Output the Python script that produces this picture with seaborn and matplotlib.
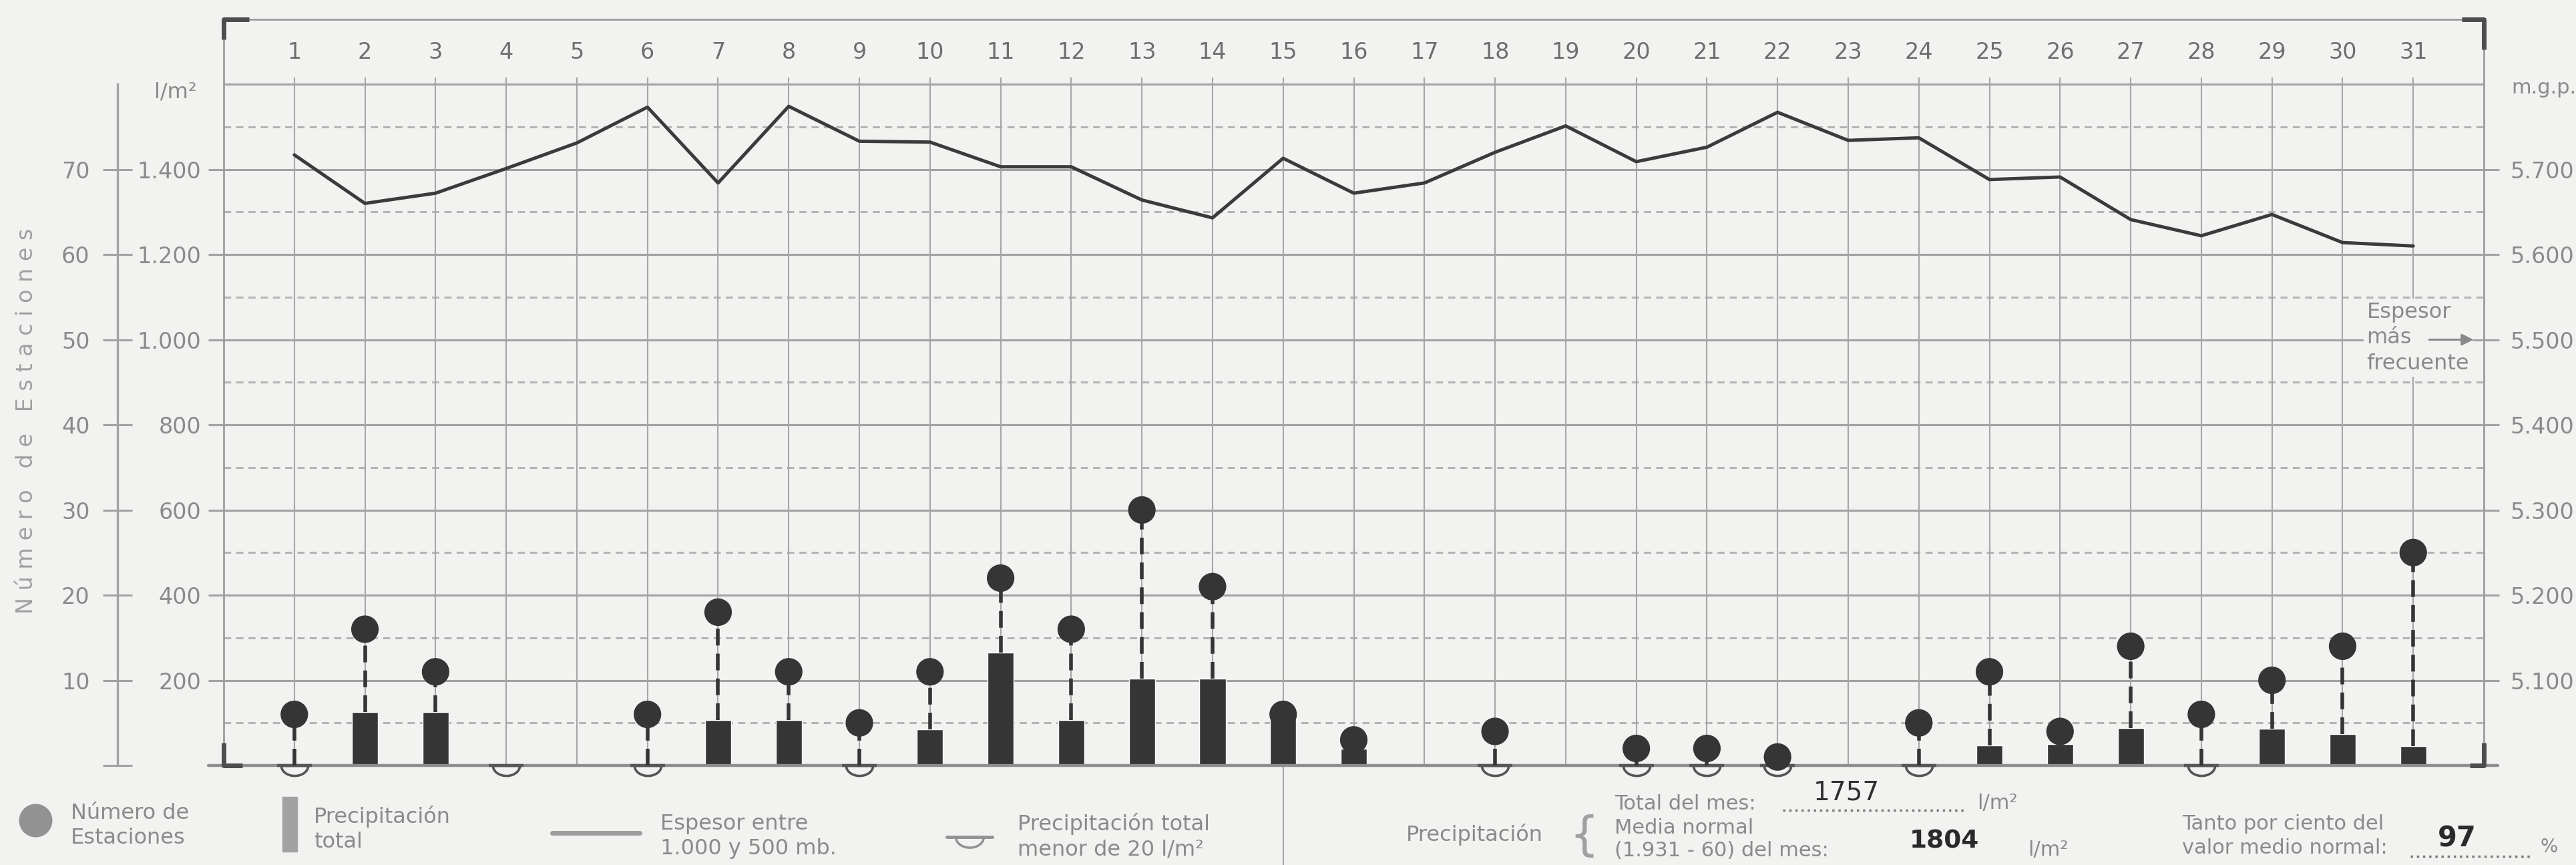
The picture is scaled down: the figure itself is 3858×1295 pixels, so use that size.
import numpy as np
import pandas as pd
import matplotlib
matplotlib.use('Agg')
import matplotlib.pyplot as plt
import seaborn as sns
from matplotlib.path import Path
from matplotlib.lines import Line2D
from matplotlib.patches import Rectangle

# Datos diarios del mes
days = list(range(1, 32))
# precipitacion total (l/m2); valores < 20 se dibujan como semicirculo
precip = [8, 126, 126, 8, 0, 8, 107, 107, 8, 84, 265, 107, 204, 204, 112, 40,
          0, 8, 0, 8, 8, 8, 0, 8, 47, 50, 88, 8, 86, 74, 45]
# numero de estaciones con precipitacion
stations = [6, 16, 11, 0, 0, 6, 18, 11, 5, 11, 22, 16, 30, 21, 6, 3,
            0, 4, 0, 2, 2, 1, 0, 5, 11, 4, 14, 6, 10, 14, 25]
# espesor 1000-500 mb (m.g.p.)
espesor = [5717, 5660, 5672, 5701, 5731, 5773, 5684, 5774, 5733, 5732, 5703,
           5703, 5664, 5643, 5713, 5672, 5684, 5720, 5751, 5709, 5726, 5767,
           5734, 5737, 5688, 5691, 5641, 5622, 5647, 5614, 5610]

left_ticks = [200, 400, 600, 800, 1000, 1200, 1400]
left_labels = ['200', '400', '600', '800', '1.000', '1.200', '1.400']
right_ticks = [5100, 5200, 5300, 5400, 5500, 5600, 5700]
right_labels = ['5.100', '5.200', '5.300', '5.400', '5.500', '5.600', '5.700']
station_ticks = [0, 10, 20, 30, 40, 50, 60, 70]
station_labels = ['', '10', '20', '30', '40', '50', '60', '70']

L_PER_STATION = 20      # 10 estaciones = 200 l/m2
MGP_BASE = 5000         # 5.000 m.g.p. en la linea base, 100 m = 200 l/m2

df = pd.DataFrame({'dia': days, 'precip': precip,
                   'estaciones': stations, 'espesor': espesor})
bars = df[df.precip >= 20]
low = df[(df.precip > 0) & (df.precip < 20)]
est = df[df.estaciones > 0]

sns.set_style('white')
plt.rcParams['font.family'] = ['DejaVu Sans']

BG = '#f2f2f0'
GRID = '#a2a2a2'
TXT = '#8a8a8a'
DARK = '#353535'

W, H = 3858, 1295
fig = plt.figure(figsize=(W / 100, H / 100), dpi=100, facecolor=BG)

def fx(px):
    return px / W

def fy(py):
    return 1 - py / H

YMIN, YMAX = -60, 1760
ax = fig.add_axes([fx(335), fy(1184.25), 3385 / W, 1160.25 / H])
ax.set_facecolor(BG)
ax_st = ax.twinx()
ax_mgp = ax.twinx()

# rejilla
for v in range(200, 1601, 200):
    ax.plot([0, 32], [v, v], color=GRID, lw=2.2, zorder=1)
for v in range(100, 1600, 200):
    ax.plot([0, 32], [v, v], color='#b4b4b4', lw=2.2, ls=(0, (3.5, 2.5)), zorder=1)
ax.vlines(days, 0, 1615, color='#a6a6a6', lw=1.5, zorder=1)
ax.vlines(15, -245, 0, color='#a6a6a6', lw=1.5, clip_on=False, zorder=1)

# barras de precipitacion
sns.barplot(data=bars, x='dia', y='precip', native_scale=True, width=0.37,
            color=DARK, saturation=1, errorbar=None, ax=ax, zorder=3)

# linea base
ax.plot([-0.22, 32.2], [0, 0], color='#8e8e8e', lw=3.2, clip_on=False, zorder=4)

# precipitacion menor de 20 l/m2
t = np.linspace(np.pi, 2 * np.pi, 30)
semi = Path(np.column_stack([np.cos(t), 0.75 * np.sin(t)]).tolist() + [[-1, 0]])
ax.plot(low.dia, np.zeros(len(low)), ls='none', marker=semi, ms=29,
        mfc=BG, mec='#555555', mew=2.6, clip_on=False, zorder=5)
ax.plot(low.dia, np.zeros(len(low)), ls='none', marker='_', ms=38,
        mec='#555555', mew=3.2, clip_on=False, zorder=5)

# marco con esquinas
FR = '#9c9c9c'
ax.plot([0, 32], [1752, 1752], color=FR, lw=2, clip_on=False)
ax.plot([0, 0], [0, 1752], color=FR, lw=2, clip_on=False)
ax.plot([32, 32], [0, 1752], color=FR, lw=2, clip_on=False)
BR = dict(color='#4d4d4d', lw=5, clip_on=False, solid_capstyle='butt', zorder=6)
ax.plot([0.36, 0, 0], [1752, 1752, 1705], **BR)
ax.plot([0.26, 0, 0], [0, 0, 53], **BR)
ax.plot([31.69, 32, 32], [1752, 1752, 1682], **BR)
ax.plot([31.8, 32, 32], [0, 0, 53], **BR)

# numeros de dia
for d in days:
    ax.text(d, 1675, str(d), ha='center', va='center', fontsize=24, color='#6e6e6e')

# espesor mas frecuente
ax.text(30.34, 1004, 'Espesor\nmás\nfrecuente', ha='left', va='center',
        fontsize=23, color=TXT, linespacing=1.3, zorder=6,
        bbox=dict(boxstyle='square,pad=0.15', fc=BG, ec='none'))
ax.annotate('', xy=(31.88, 1000), xytext=(31.2, 1000), zorder=7,
            arrowprops=dict(arrowstyle='-|>', color=TXT, lw=2.2, mutation_scale=26))

ax.set_xlim(0, 32)
ax.set_ylim(YMIN, YMAX)
ax.set_xticks([])
ax.set_xlabel('')
ax.set_ylabel('')
ax.set_yticks(left_ticks)
ax.set_yticklabels(left_labels)
ax.tick_params(axis='y', length=16.5, width=2.2, color=GRID, pad=8,
               labelsize=24, labelcolor=TXT)
for s in ax.spines.values():
    s.set_visible(False)

# numero de estaciones
for _, r in est.iterrows():
    bottom = r.precip / L_PER_STATION if r.precip >= 20 else 0
    ax_st.plot([r.dia, r.dia], [bottom, r.estaciones], color=DARK, lw=4,
               ls=(0, (4.5, 2.2)), zorder=2)
sns.scatterplot(data=est, x='dia', y='estaciones', s=880, color=DARK,
                edgecolor='none', ax=ax_st, zorder=3, legend=False)
ax_st.set_ylim(YMIN / L_PER_STATION, YMAX / L_PER_STATION)
ax_st.set_xlabel('')
ax_st.set_ylabel('')
for s in ax_st.spines.values():
    s.set_visible(False)
ax_st.yaxis.tick_left()
ax_st.spines['left'].set_visible(True)
ax_st.spines['left'].set_position(('outward', 114.5))
ax_st.spines['left'].set_bounds(0, 80)
ax_st.spines['left'].set_color(GRID)
ax_st.spines['left'].set_linewidth(2.4)
ax_st.set_yticks(station_ticks)
ax_st.set_yticklabels(station_labels)
ax_st.tick_params(axis='y', direction='inout', length=31.7, width=2.2,
                  color=GRID, pad=14, labelsize=24, labelcolor=TXT)

# espesor 1000-500 mb
sns.lineplot(data=df, x='dia', y='espesor', color='#3b3b3b', lw=3.6,
             ax=ax_mgp, legend=False)
ax_mgp.set_ylim(MGP_BASE + YMIN / 2, MGP_BASE + YMAX / 2)
ax_mgp.set_xlim(0, 32)
ax_mgp.set_xlabel('')
ax_mgp.set_ylabel('')
for s in ax_mgp.spines.values():
    s.set_visible(False)
ax_mgp.set_yticks(right_ticks)
ax_mgp.set_yticklabels(right_labels)
ax_mgp.tick_params(axis='y', length=16.5, width=2.2, color=GRID, pad=12,
                   labelsize=24, labelcolor=TXT)

# textos de ejes
fig.text(fx(295), fy(138), 'l/m²', ha='right', va='center', fontsize=23, color=TXT)
fig.text(fx(3761), fy(132), 'm.g.p.', ha='left', va='center', fontsize=22, color=TXT)
fig.text(fx(40), fy(630), 'N ú m e r o   d e   E s t a c i o n e s', rotation=90,
         ha='center', va='center', fontsize=24, color='#a0a0a0')

# leyenda
LEG = '#929292'
fig.add_artist(Line2D([fx(53)], [fy(1228)], marker='o', ms=35, color=LEG, ls='none'))
fig.text(fx(106), fy(1236), 'Número de\nEstaciones', va='center', fontsize=23,
         color=TXT, linespacing=1.25)
fig.add_artist(Rectangle((fx(423), fy(1275)), 22 / W, 82 / H, color='#a2a2a2'))
fig.text(fx(470), fy(1241), 'Precipitación\ntotal', va='center', fontsize=23,
         color=TXT, linespacing=1.25)
fig.add_artist(Line2D([fx(827), fx(958)], [fy(1247)] * 2, lw=5, color='#9c9c9c'))
fig.text(fx(989), fy(1252), 'Espesor entre\n1.000 y 500 mb.', va='center',
         fontsize=23, color=TXT, linespacing=1.25)
fig.add_artist(Line2D([fx(1452)], [fy(1253)], marker=semi, ms=30, mfc=BG,
                      mec=LEG, mew=2.5, ls='none'))
fig.add_artist(Line2D([fx(1418), fx(1486)], [fy(1253)] * 2, lw=3.5, color=LEG))
fig.text(fx(1524), fy(1252), 'Precipitación total\nmenor de 20 l/m²', va='center',
         fontsize=23, color=TXT, linespacing=1.25)

fig.text(fx(2106), fy(1250), 'Precipitación', va='center', fontsize=23, color=TXT)
fig.text(fx(2350), fy(1252), '{', va='center', fontsize=50, color='#a0a0a0')
fig.text(fx(2418), fy(1203), 'Total del mes:', va='center', fontsize=22, color=TXT)
fig.add_artist(Line2D([fx(2670), fx(2943)], [fy(1213)] * 2, lw=2.5, ls=':', color='#7a7a7a'))
fig.text(fx(2765), fy(1186), '1757', ha='center', va='center', fontsize=28, color='#2e2e2e')
fig.text(fx(2961), fy(1203), 'l/m²', va='center', fontsize=22, color=TXT)
fig.text(fx(2418), fy(1240), 'Media normal', va='center', fontsize=22, color=TXT)
fig.text(fx(2418), fy(1273), '(1.931 - 60) del mes:', va='center', fontsize=22, color=TXT)
fig.text(fx(2912), fy(1260), '1804', ha='center', va='center', fontsize=27,
         fontweight='bold', color='#2a2a2a')
fig.text(fx(3037), fy(1273), 'l/m²', va='center', fontsize=22, color=TXT)
fig.text(fx(3268), fy(1233), 'Tanto por ciento del', va='center', fontsize=22, color=TXT)
fig.text(fx(3268), fy(1270), 'valor medio normal:', va='center', fontsize=22, color=TXT)
fig.add_artist(Line2D([fx(3610), fx(3790)], [fy(1282)] * 2, lw=2.5, ls=':', color='#7a7a7a'))
fig.text(fx(3680), fy(1255), '97', ha='center', va='center', fontsize=30,
         fontweight='bold', color='#2a2a2a')
fig.text(fx(3818), fy(1268), '%', ha='center', va='center', fontsize=20, color=TXT)

fig.savefig('out.png', dpi=100, facecolor=BG)
